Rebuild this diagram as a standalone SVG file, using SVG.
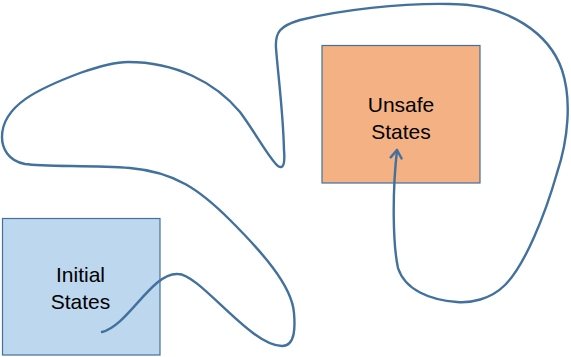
<svg xmlns="http://www.w3.org/2000/svg" width="571" height="357" viewBox="0 0 571 357">
  <defs>
    <style>
      .box { stroke: #41719C; stroke-width: 1.2; }
      .label { font-family: "Liberation Sans", Arial, sans-serif; font-size: 21px; fill: #000; text-anchor: middle; }
      .trace { fill: none; stroke: #41719C; stroke-width: 2.4; stroke-linecap: round; stroke-linejoin: round; }
    </style>
    <marker id="open-arrow" markerUnits="userSpaceOnUse" orient="auto" viewBox="-12 -8 14 16" refX="0" refY="0" markerWidth="14" markerHeight="16">
      <path d="M-8,-5.5 L0,0 L-8,5.5" fill="none" stroke="#41719C" stroke-width="2.4" stroke-linecap="round" stroke-linejoin="round"/>
    </marker>
  </defs>

  <rect width="571" height="357" fill="#ffffff"/>

  <g id="initial-states">
    <rect class="box" x="2.5" y="218.5" width="157.5" height="136.5" fill="#BDD7EE"/>
    <text class="label" x="80.5" y="282">Initial</text>
    <text class="label" x="80.5" y="309">States</text>
  </g>

  <g id="unsafe-states">
    <rect class="box" x="322" y="45.5" width="158" height="137.5" fill="#F4B183"/>
    <text class="label" x="401" y="112">Unsafe</text>
    <text class="label" x="401" y="139">States</text>
  </g>

  <g id="connectors">
    <path class="trace" marker-end="url(#open-arrow)"
      d="M102,332
         C128,326 152,272 178,274
         C200,274 250,346 282,346
         C296,346 295,325 294,313
         C292,285 260,250 230,220
         C200,190 175,172 130,168
         C90,165 45,167 25,164
         C8,161 2,148 2,137
         C2,105 40,88 80,73
         C100,66 115,62 128,62
         C175,62 215,82 240,112
         C255,132 270,160 278,166
         C284,170 285,162 284,150
         C283,110 278,75 276,48
         C275,32 280,26 300,20
         C340,10 400,3 450,4
         C510,4 550,35 562,70
         C572,100 568,140 557,173
         C545,215 525,265 505,285
         C490,300 470,303 457,302
         C430,300 405,290 398,268
         C393,245 392,195 397,150"/>
  </g>
</svg>
